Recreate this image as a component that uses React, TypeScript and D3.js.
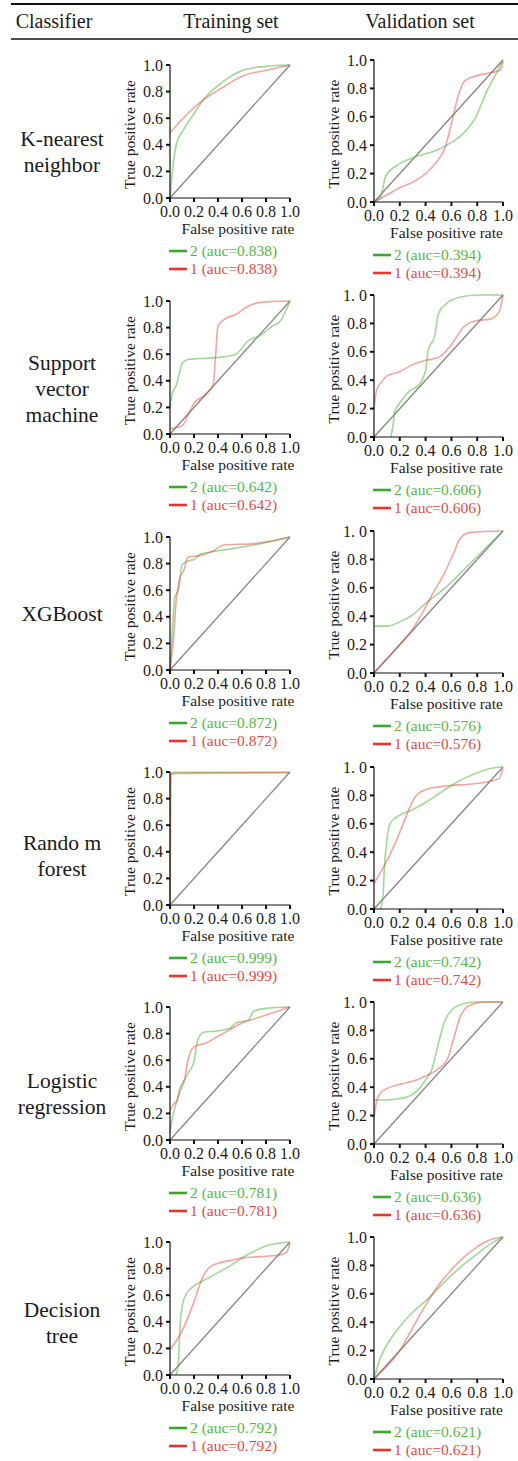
import * as d3 from "d3";

type Pt = [number, number];

// classifier names (row labels) and auc values
const classifierNames: string[][] = [
  ["K-nearest", "neighbor"],
  ["Support", "vector", "machine"],
  ["XGBoost"],
  ["Rando m", "forest"],
  ["Logistic", "regression"],
  ["Decision", "tree"],
];
const trainAuc = ["0.838", "0.642", "0.872", "0.999", "0.781", "0.792"];
const validAuc = ["0.394", "0.606", "0.576", "0.742", "0.636", "0.621"];
const trainTopTick = ["1.0", "1.0", "1.0", "1.0", "1.0", "1.0"];
const validTopTick = ["1.0", "1. 0", "1. 0", "1. 0", "1. 0", "1.0"];

// ROC points, [false positive rate, true positive rate]; "2" = green, "1" = red
const knnTrain2: Pt[] = [[0, 0], [0.03, 0.28], [0.055, 0.41], [0.11, 0.51], [0.19, 0.62], [0.28, 0.74], [0.42, 0.86], [0.61, 0.96], [0.8, 0.99], [1, 1]];
const knnTrain1: Pt[] = [[0, 0.49], [0.11, 0.6], [0.28, 0.74], [0.42, 0.82], [0.61, 0.92], [0.8, 0.96], [1, 1]];
const knnValid2: Pt[] = [[0, 0], [0.05, 0.03], [0.09, 0.18], [0.2, 0.27], [0.3, 0.31], [0.4, 0.34], [0.5, 0.37], [0.6, 0.42], [0.7, 0.49], [0.79, 0.6], [0.87, 0.77], [0.95, 0.91], [1, 1]];
const knnValid1: Pt[] = [[0, 0], [0.1, 0.05], [0.2, 0.1], [0.3, 0.14], [0.4, 0.2], [0.5, 0.3], [0.55, 0.38], [0.6, 0.55], [0.65, 0.74], [0.7, 0.85], [0.8, 0.89], [0.9, 0.91], [0.98, 0.93], [1, 0.99]];

const svmTrain2: Pt[] = [[0, 0.2], [0.02, 0.31], [0.05, 0.36], [0.08, 0.46], [0.1, 0.53], [0.15, 0.56], [0.3, 0.57], [0.45, 0.58], [0.55, 0.6], [0.65, 0.7], [0.75, 0.74], [0.85, 0.81], [0.92, 0.85], [1, 1]];
const svmTrain1: Pt[] = [[0, 0.04], [0.1, 0.06], [0.15, 0.14], [0.2, 0.23], [0.3, 0.3], [0.36, 0.37], [0.38, 0.59], [0.4, 0.81], [0.45, 0.86], [0.55, 0.9], [0.65, 0.96], [0.75, 0.99], [1, 1]];
const svmValid2: Pt[] = [[0.13, 0], [0.15, 0.1], [0.16, 0.18], [0.2, 0.24], [0.27, 0.32], [0.35, 0.37], [0.4, 0.47], [0.42, 0.61], [0.47, 0.71], [0.5, 0.87], [0.55, 0.93], [0.65, 0.98], [0.8, 1], [1, 1]];
const svmValid1: Pt[] = [[0, 0.2], [0.02, 0.33], [0.06, 0.39], [0.1, 0.43], [0.2, 0.46], [0.3, 0.51], [0.4, 0.54], [0.5, 0.56], [0.6, 0.65], [0.7, 0.78], [0.8, 0.82], [0.9, 0.83], [0.97, 0.88], [1, 1]];

const xgbTrain2: Pt[] = [[0, 0], [0.02, 0.31], [0.04, 0.55], [0.07, 0.6], [0.1, 0.79], [0.15, 0.82], [0.2, 0.83], [0.25, 0.87], [0.35, 0.89], [0.5, 0.91], [0.7, 0.94], [1, 1]];
const xgbTrain1: Pt[] = [[0, 0], [0.03, 0.25], [0.05, 0.51], [0.08, 0.68], [0.12, 0.76], [0.15, 0.85], [0.25, 0.86], [0.35, 0.89], [0.45, 0.94], [0.7, 0.95], [1, 1]];
const xgbValid2: Pt[] = [[0, 0.33], [0.1, 0.33], [0.2, 0.36], [0.3, 0.41], [0.4, 0.49], [0.5, 0.56], [0.6, 0.64], [0.7, 0.73], [0.8, 0.82], [0.9, 0.91], [1, 1]];
const xgbValid1: Pt[] = [[0, 0], [0.2, 0.2], [0.3, 0.31], [0.38, 0.43], [0.45, 0.55], [0.55, 0.71], [0.62, 0.85], [0.67, 0.95], [0.75, 0.99], [1, 1]];

const rfTrain2: Pt[] = [[0, 0], [0.004, 0.99], [0.05, 0.997], [1, 0.998]];
const rfTrain1: Pt[] = [[0, 0], [0.006, 0.98], [0.05, 0.99], [1, 0.995]];
const rfValid2: Pt[] = [[0.05, 0], [0.07, 0.09], [0.08, 0.28], [0.1, 0.49], [0.13, 0.61], [0.2, 0.66], [0.3, 0.7], [0.4, 0.75], [0.5, 0.81], [0.6, 0.87], [0.7, 0.92], [0.8, 0.96], [0.9, 0.99], [1, 1]];
const rfValid1: Pt[] = [[0, 0.18], [0.1, 0.34], [0.2, 0.54], [0.27, 0.7], [0.32, 0.79], [0.4, 0.84], [0.5, 0.86], [0.6, 0.87], [0.75, 0.88], [0.9, 0.9], [0.97, 0.92], [1, 0.99]];

const lrTrain2: Pt[] = [[0, 0.05], [0.02, 0.16], [0.04, 0.24], [0.06, 0.3], [0.08, 0.38], [0.12, 0.45], [0.15, 0.5], [0.2, 0.59], [0.23, 0.75], [0.28, 0.81], [0.4, 0.82], [0.5, 0.84], [0.55, 0.88], [0.65, 0.9], [0.7, 0.97], [0.8, 0.99], [1, 1]];
const lrTrain1: Pt[] = [[0, 0.22], [0.03, 0.27], [0.06, 0.3], [0.09, 0.38], [0.12, 0.45], [0.15, 0.6], [0.2, 0.7], [0.3, 0.73], [0.4, 0.78], [0.5, 0.83], [0.6, 0.88], [0.7, 0.91], [0.8, 0.94], [0.9, 0.97], [1, 1]];
const lrValid2: Pt[] = [[0, 0.31], [0.1, 0.31], [0.2, 0.32], [0.3, 0.35], [0.35, 0.39], [0.4, 0.45], [0.45, 0.53], [0.5, 0.71], [0.55, 0.87], [0.6, 0.94], [0.7, 0.99], [0.8, 1], [1, 1]];
const lrValid1: Pt[] = [[0, 0.18], [0.02, 0.3], [0.05, 0.36], [0.1, 0.39], [0.2, 0.42], [0.33, 0.45], [0.4, 0.48], [0.5, 0.53], [0.57, 0.6], [0.62, 0.75], [0.67, 0.9], [0.75, 0.98], [0.85, 1], [1, 1]];

const dtTrain2: Pt[] = [[0.05, 0], [0.07, 0.09], [0.08, 0.31], [0.1, 0.51], [0.13, 0.6], [0.2, 0.67], [0.3, 0.72], [0.4, 0.77], [0.5, 0.82], [0.6, 0.88], [0.7, 0.93], [0.8, 0.97], [0.9, 0.99], [1, 1]];
const dtTrain1: Pt[] = [[0, 0.19], [0.1, 0.33], [0.2, 0.55], [0.27, 0.73], [0.33, 0.81], [0.4, 0.84], [0.5, 0.86], [0.6, 0.88], [0.75, 0.89], [0.9, 0.9], [0.97, 0.92], [1, 0.99]];
const dtValid2: Pt[] = [[0, 0], [0.05, 0.15], [0.1, 0.24], [0.2, 0.37], [0.3, 0.47], [0.4, 0.55], [0.5, 0.64], [0.6, 0.73], [0.7, 0.81], [0.8, 0.88], [0.9, 0.95], [1, 1]];
const dtValid1: Pt[] = [[0, 0], [0.1, 0.09], [0.2, 0.2], [0.3, 0.36], [0.4, 0.52], [0.5, 0.66], [0.6, 0.77], [0.7, 0.86], [0.8, 0.93], [0.9, 0.98], [1, 1]];

const trainCurves = [[knnTrain2, knnTrain1], [svmTrain2, svmTrain1], [xgbTrain2, xgbTrain1], [rfTrain2, rfTrain1], [lrTrain2, lrTrain1], [dtTrain2, dtTrain1]];
const validCurves = [[knnValid2, knnValid1], [svmValid2, svmValid1], [xgbValid2, xgbValid1], [rfValid2, rfValid1], [lrValid2, lrValid1], [dtValid2, dtValid1]];

const FONT = "'Liberation Serif', 'Times New Roman', serif";
const GREEN = "#52b83f";
const RED = "#ec4a3f";

// panel placement
const trainBox = { left: 170, width: 120, height: 133 };
const validBox = { left: 374, width: 129, height: 142 };
const trainTops = [65, 301, 537, 772, 1007, 1242];
const validTops = [60, 295, 531, 767, 1002, 1237];
const labelCenters = [152, 389, 614, 856, 1094, 1323];

function RocPanel({ left, top, width, height, curves, auc, topTick }: any) {
  const x = d3.scaleLinear().domain([0, 1]).range([left, left + width]);
  const y = d3.scaleLinear().domain([0, 1]).range([top + height, top]);
  const line = d3.line<Pt>().x((d) => x(d[0])).y((d) => y(d[1])).curve(d3.curveMonotoneX);
  const ticks = x.ticks(5);
  const fmt = d3.format(".1f");
  const bottom = y(0);
  return (
    <g>
      <path d={line([[0, 0], [1, 1]]) || ""} fill="none" stroke="#858585" strokeWidth={1.3} />
      <path d={line(curves[0]) || ""} fill="none" stroke={GREEN} strokeOpacity={0.55} strokeWidth={1.6} />
      <path d={line(curves[1]) || ""} fill="none" stroke={RED} strokeOpacity={0.5} strokeWidth={1.6} />
      {/* axes */}
      <line x1={x(0)} x2={x(0)} y1={y(0)} y2={y(1)} stroke="#111" strokeWidth={1.2} />
      <line x1={x(0)} x2={x(1)} y1={bottom} y2={bottom} stroke="#111" strokeWidth={1.2} />
      {ticks.map((t) => (
        <g key={"y" + t}>
          <line x1={x(0) - 4} x2={x(0)} y1={y(t)} y2={y(t)} stroke="#111" strokeWidth={2} />
          <text x={x(0) - 7} y={y(t) + 5.5} textAnchor="end" fontSize={16} fill="#1a1a1a">
            {t === 1 ? topTick : fmt(t)}
          </text>
        </g>
      ))}
      {ticks.map((t) => (
        <g key={"x" + t}>
          <line x1={x(t)} x2={x(t)} y1={bottom} y2={bottom + 4} stroke="#111" strokeWidth={2} />
          <text x={x(t)} y={bottom + 19} textAnchor="middle" fontSize={16} fill="#1a1a1a">
            {fmt(t)}
          </text>
        </g>
      ))}
      <text x={left + width / 2 + 8} y={bottom + 36} textAnchor="middle" fontSize={15.5} fill="#1a1a1a">
        False positive rate
      </text>
      <text
        transform={`translate(${left - 35},${top + height / 2 + 3}) rotate(-90)`}
        textAnchor="middle"
        fontSize={15.5}
        fill="#1a1a1a"
      >
        True positive rate
      </text>
      {/* legend */}
      <line x1={left - 1} x2={left + 17} y1={bottom + 53} y2={bottom + 53} stroke="#3aa82e" strokeWidth={2.6} />
      <text x={left + 20} y={bottom + 58} fontSize={15.5} fill={GREEN}>{`2 (auc=${auc})`}</text>
      <line x1={left - 1} x2={left + 17} y1={bottom + 71} y2={bottom + 71} stroke="#e8352b" strokeWidth={2.6} />
      <text x={left + 20} y={bottom + 76} fontSize={15.5} fill={RED}>{`1 (auc=${auc})`}</text>
    </g>
  );
}

export default function App() {
  return (
    <svg
      width={518}
      height={1461}
      style={{ position: "absolute", left: 0, top: 0, background: "#fff" }}
      fontFamily={FONT}
    >
      <line x1={11} x2={518} y1={4} y2={4} stroke="#111" strokeWidth={2} />
      <line x1={11} x2={518} y1={39} y2={39} stroke="#111" strokeWidth={1.6} />
      <text x={54} y={28} textAnchor="middle" fontSize={20} fill="#1a1a1a">Classifier</text>
      <text x={231} y={28} textAnchor="middle" fontSize={20} fill="#1a1a1a">Training set</text>
      <text x={420} y={28} textAnchor="middle" fontSize={20} fill="#1a1a1a">Validation set</text>
      {classifierNames.map((lines, i) => (
        <text key={"c" + i} x={62} textAnchor="middle" fontSize={21.5} fill="#1a1a1a">
          {lines.map((s, j) => (
            <tspan key={j} x={62} y={labelCenters[i] + 7 + (j - (lines.length - 1) / 2) * 26}>
              {s}
            </tspan>
          ))}
        </text>
      ))}
      {trainTops.map((top, i) => (
        <RocPanel key={"t" + i} {...trainBox} top={top} curves={trainCurves[i]} auc={trainAuc[i]} topTick={trainTopTick[i]} />
      ))}
      {validTops.map((top, i) => (
        <RocPanel key={"v" + i} {...validBox} top={top} curves={validCurves[i]} auc={validAuc[i]} topTick={validTopTick[i]} />
      ))}
    </svg>
  );
}
